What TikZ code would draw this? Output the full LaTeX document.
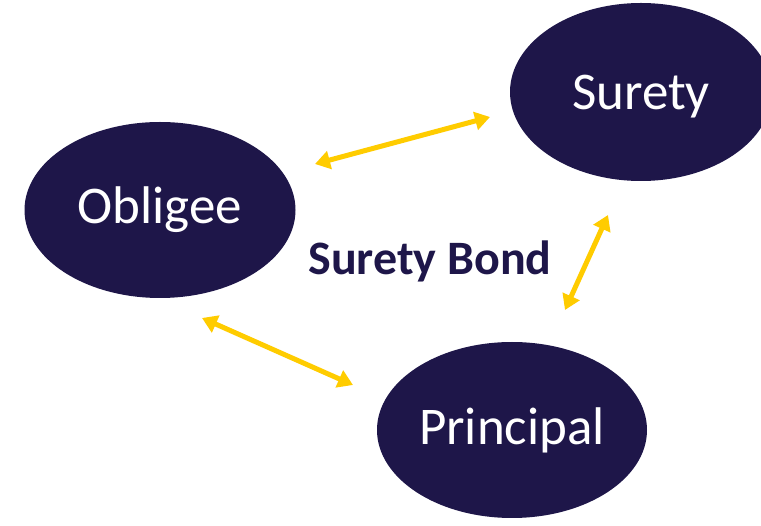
\documentclass[tikz,border=0pt]{standalone}
\usepackage{fontspec}
\setmainfont{Carlito}
\usetikzlibrary{shapes.geometric,arrows.meta}
\definecolor{navy}{RGB}{30,22,73}
\definecolor{gold}{RGB}{255,204,0}
\tikzset{
  party/.style={ellipse, fill=navy, draw=none, text=white, inner sep=0pt,
    font=\fontsize{53}{62}\selectfont},
  link/.style={draw=gold, line width=5pt,
    {Triangle[length=15pt,width=18pt]}-{Triangle[length=15pt,width=18pt]}}
}
\begin{document}
\begin{tikzpicture}[x=1pt,y=-1pt]
\clip (0,0) rectangle (761,526);
\fill[white] (0,0) rectangle (761,526);
\node[party, minimum width=271pt, minimum height=176pt] (obligee) at (160,210) {Obligee};
\node[party, minimum width=262pt, minimum height=178pt, text height=45pt, text depth=10pt] (surety) at (641,92) {Surety};
\node[party, minimum width=270pt, minimum height=176pt] (principal) at (512,430) {Principal};
\node[text=navy, font=\bfseries\fontsize{48}{56}\selectfont] (bond) at (430,261) {Surety Bond};
\coordinate (a1) at (315,164);
\coordinate (a2) at (490,117);
\coordinate (b1) at (608,215);
\coordinate (b2) at (565,310);
\coordinate (c1) at (202,318);
\coordinate (c2) at (353,385);
\draw[link] (a1) -- (a2);
\draw[link] (b1) -- (b2);
\draw[link] (c1) -- (c2);
\end{tikzpicture}
\end{document}
